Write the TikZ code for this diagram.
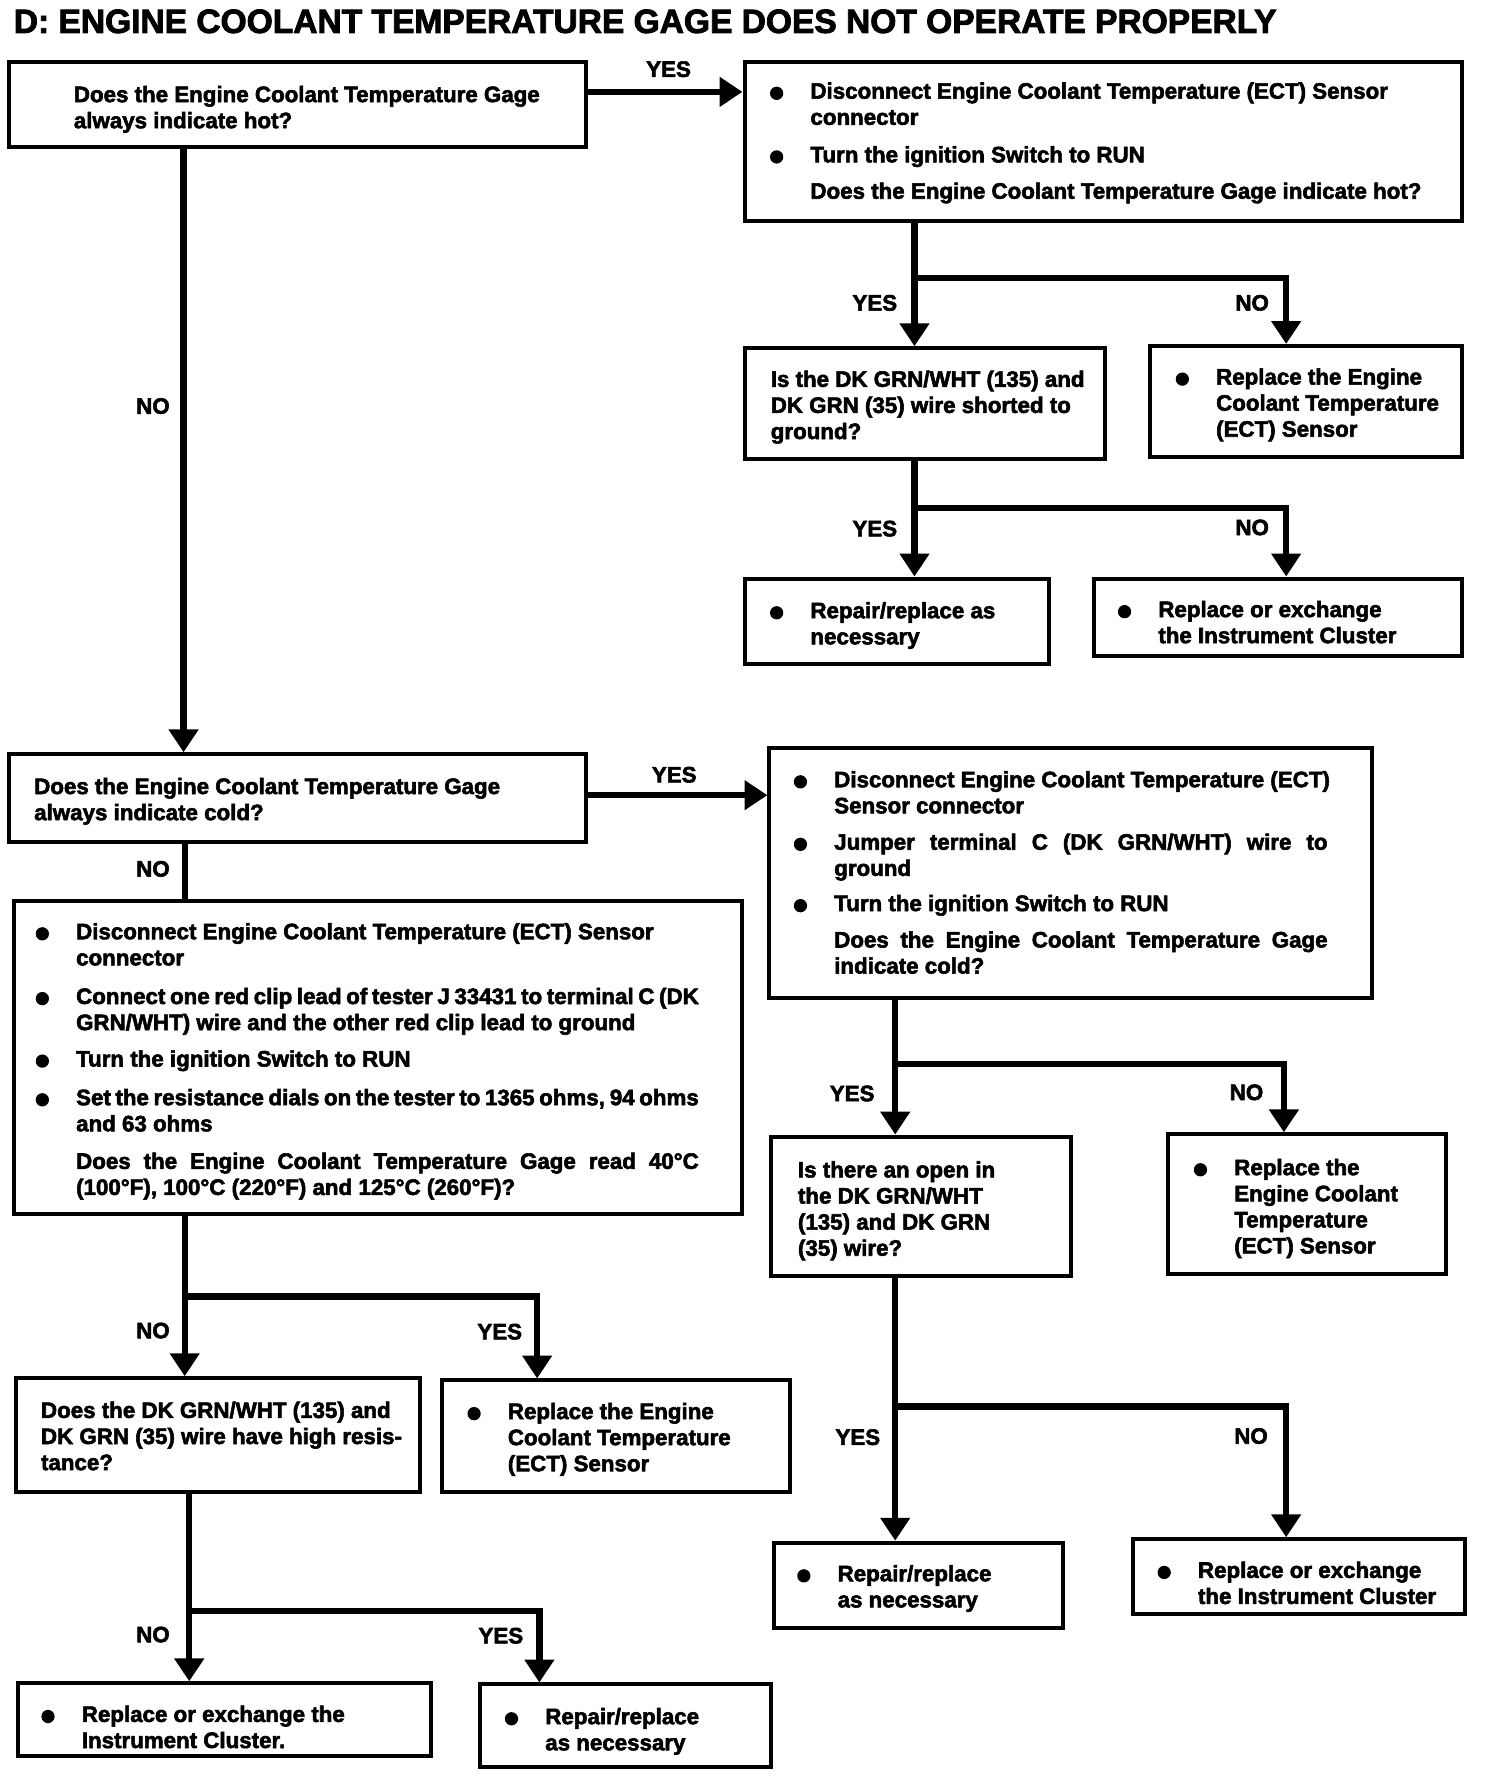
\documentclass[tikz,border=0pt]{standalone}
\usepackage{fontspec}
\setmainfont{Liberation Sans}[BoldFeatures={FakeBold=2.5}]
\usepackage{graphicx}
\usetikzlibrary{arrows.meta,fit}
\newcommand\sk{\spaceskip=0pt\xspaceskip=0pt\relax}
\newcommand\bul{\leavevmode\sk\llap{\makebox[36pt][l]{\raisebox{-7.5pt}{\scalebox{1.9}{\textbullet}}}}}
\newcommand\jl[2]{\makebox[#1][s]{\sk #2}}
\begin{document}
\begin{tikzpicture}[x=0.99pt, y=-0.991pt,
  box/.style={draw, line width=3.5pt, inner sep=0pt},
  conn/.style={line width=5.5pt},
  arr/.style={conn, -{Triangle[length=20pt,width=25pt]}},
  txt/.style={anchor=base west, inner sep=0pt, font=\bfseries\fontsize{19.5}{22.8}\selectfont},
  lbl/.style={inner sep=0pt, font=\bfseries\fontsize{19.5}{22.8}\selectfont}]
\fill[white] (0,0) rectangle (1313.13,1565.7);
\useasboundingbox (0,0) rectangle (1313.13,1565.7);

\node[anchor=base west, inner sep=0pt, font=\bfseries\fontsize{29.3}{30}\selectfont] (title) at (12,29) {D: ENGINE COOLANT TEMPERATURE GAGE DOES NOT OPERATE PROPERLY};

% boxes
\node[box, fit={(8,55) (517,130)}] (A) {};
\node[box, fit={(657,55) (1290,195)}] (B) {};
\node[box, fit={(657,307) (975,405)}] (C) {};
\node[box, fit={(1015,305) (1290,403)}] (D) {};
\node[box, fit={(657,510) (926,585)}] (E) {};
\node[box, fit={(965,510) (1290,578)}] (F) {};
\node[box, fit={(8,665) (517,742)}] (G) {};
\node[box, fit={(679,659) (1211,880)}] (H) {};
\node[box, fit={(680,1002) (945,1125)}] (I) {};
\node[box, fit={(1031,1000) (1276,1123)}] (J) {};
\node[box, fit={(683,1360) (938,1435)}] (K) {};
\node[box, fit={(1000,1357) (1293,1423)}] (L) {};
\node[box, fit={(12,794) (655,1070)}] (M) {};
\node[box, fit={(14,1215) (371,1315)}] (N) {};
\node[box, fit={(390,1217) (697,1315)}] (O) {};
\node[box, fit={(16,1484) (380,1548)}] (P) {};
\node[box, fit={(424,1485) (680,1558)}] (Q) {};

% texts
\node[txt, text width=470pt] (tA) at (65,90) {\sk Does the Engine Coolant Temperature Gage\\\sk always indicate hot?};
\node[txt, text width=560pt] (tB) at (715,87) {\bul Disconnect Engine Coolant Temperature (ECT) Sensor\\\sk connector\\[10pt]\bul Turn the ignition Switch to RUN\\[9pt]\sk Does the Engine Coolant Temperature Gage indicate hot?};
\node[txt, text width=320pt] (tC) at (680,341) {\sk Is the DK GRN/WHT (135) and\\\sk DK GRN (35) wire shorted to\\ground?};
\node[txt, text width=230pt] (tD) at (1073,339) {\bul Replace the Engine\\\sk Coolant Temperature\\\sk (ECT) Sensor};
\node[txt, text width=230pt] (tE) at (715,545) {\bul Repair/replace as\\necessary};
\node[txt, text width=280pt] (tF) at (1022,544) {\bul Replace or exchange\\\sk the Instrument Cluster};
\node[txt, text width=470pt] (tG) at (30,700) {\sk Does the Engine Coolant Temperature Gage\\\sk always indicate cold?};
\node[txt, text width=440pt] (tH) at (736,694) {\bul Disconnect Engine Coolant Temperature (ECT)\\\sk Sensor connector\\[9pt]\bul\jl{431pt}{Jumper terminal C (DK GRN/WHT) wire to}\\ground\\[8pt]\bul Turn the ignition Switch to RUN\\[9pt]\jl{431pt}{Does the Engine Coolant Temperature Gage}\\\sk indicate cold?};
\node[txt, text width=250pt] (tI) at (704,1038) {\sk Is there an open in\\\sk the DK GRN/WHT\\\sk (135) and DK GRN\\\sk (35) wire?};
\node[txt, text width=200pt] (tJ) at (1089,1036) {\bul Replace the\\\sk Engine Coolant\\Temperature\\\sk (ECT) Sensor};
\node[txt, text width=200pt] (tK) at (739,1394) {\bul Repair/replace\\\sk as necessary};
\node[txt, text width=250pt] (tL) at (1057,1391) {\bul Replace or exchange\\\sk the Instrument Cluster};
\node[txt, text width=550pt] (tM) at (67,828) {\bul Disconnect Engine Coolant Temperature (ECT) Sensor\\connector\\[11pt]\bul\jl{544pt}{Connect one red clip lead of tester J 33431 to terminal C (DK}\\\sk GRN/WHT) wire and the other red clip lead to ground\\[9pt]\bul Turn the ignition Switch to RUN\\[11pt]\bul\jl{544pt}{Set the resistance dials on the tester to 1365 ohms, 94 ohms}\\\sk and 63 ohms\\[10pt]\jl{544pt}{Does the Engine Coolant Temperature Gage read 40°C}\\\sk (100°F), 100°C (220°F) and 125°C (260°F)?};
\node[txt, text width=330pt] (tN) at (36,1250) {\sk Does the DK GRN/WHT (135) and\\\sk DK GRN (35) wire have high resis-\\tance?};
\node[txt, text width=240pt] (tO) at (448,1251) {\bul Replace the Engine\\\sk Coolant Temperature\\\sk (ECT) Sensor};
\node[txt, text width=300pt] (tP) at (72,1518) {\bul Replace or exchange the\\\sk Instrument Cluster.};
\node[txt, text width=190pt] (tQ) at (481,1520) {\bul Repair/replace\\\sk as necessary};

% labels
\node[lbl] (lAB) at (590,61) {YES};
\node[lbl] (lAG) at (135,358) {NO};
\node[lbl] (lBC) at (772,267) {YES};
\node[lbl] (lBD) at (1105,267) {NO};
\node[lbl] (lCE) at (772,466) {YES};
\node[lbl] (lCF) at (1105,465) {NO};
\node[lbl] (lGH) at (595,683) {YES};
\node[lbl] (lGM) at (135,766) {NO};
\node[lbl] (lHI) at (752,964) {YES};
\node[lbl] (lHJ) at (1100,963) {NO};
\node[lbl] (lIK) at (757,1267) {YES};
\node[lbl] (lIL) at (1104,1266) {NO};
\node[lbl] (lMN) at (135,1173) {NO};
\node[lbl] (lMO) at (441,1174) {YES};
\node[lbl] (lNP) at (135,1441) {NO};
\node[lbl] (lNQ) at (442,1442) {YES};

% connectors
\coordinate (ab) at (0,81);
\draw[arr] (A.east |- ab) -- (B.west |- ab);
\coordinate (ag) at (162,0);
\draw[arr] (A.south -| ag) -- (G.north -| ag);
\coordinate (b1) at (807,245); \coordinate (b2) at (1135,245);
\draw[arr] (B.south -| b1) -- (b1) -- (b2) -- (D.north -| b2);
\draw[arr] (b1) -- (C.north -| b1);
\coordinate (c1) at (807,448); \coordinate (c2) at (1135,448);
\draw[arr] (C.south -| c1) -- (c1) -- (c2) -- (F.north -| c2);
\draw[arr] (c1) -- (E.north -| c1);
\coordinate (gh) at (0,701);
\draw[arr] (G.east |- gh) -- (H.west |- gh);
\coordinate (gm) at (163,0);
\draw[conn] (G.south -| gm) -- (M.north -| gm);
\coordinate (h1) at (790,938); \coordinate (h2) at (1133,938);
\draw[arr] (H.south -| h1) -- (h1) -- (h2) -- (J.north -| h2);
\draw[arr] (h1) -- (I.north -| h1);
\coordinate (i1) at (790,1240); \coordinate (i2) at (1135,1240);
\draw[arr] (I.south -| i1) -- (i1) -- (i2) -- (L.north -| i2);
\draw[arr] (i1) -- (K.north -| i1);
\coordinate (m1) at (163,1143); \coordinate (m2) at (474,1143);
\draw[arr] (M.south -| m1) -- (m1) -- (m2) -- (O.north -| m2);
\draw[arr] (m1) -- (N.north -| m1);
\coordinate (n1) at (167,1420); \coordinate (n2) at (476,1420);
\draw[arr] (N.south -| n1) -- (n1) -- (n2) -- (Q.north -| n2);
\draw[arr] (n1) -- (P.north -| n1);
\end{tikzpicture}
\end{document}
